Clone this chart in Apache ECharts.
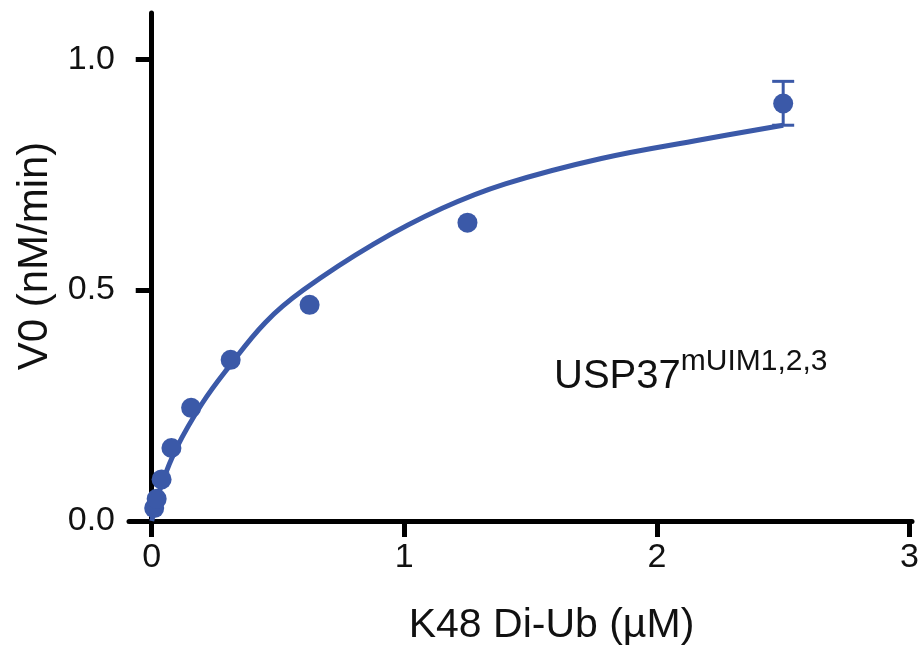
<!DOCTYPE html>
<html>
<head>
<meta charset="utf-8">
<script src="https://cdn.jsdelivr.net/npm/echarts@6/dist/echarts.min.js"></script>
<style>
  html, body { margin: 0; padding: 0; background: #fff; }
  #main { width: 923px; height: 653px; }
</style>
</head>
<body>
<div id="main"></div>
<script>
// K48 Di-Ub concentrations (uM) and measured V0 (nM/min)
var conc = [0.0098, 0.0195, 0.039, 0.078, 0.156, 0.3125, 0.625, 1.25, 2.5];
var v0 = [0.028, 0.048, 0.09, 0.158, 0.245, 0.349, 0.468, 0.646, 0.904];
// error bar (only the top point has a visible one)
var errX = [2.5];
var errLow = [0.857];
var errHigh = [0.952];
// fitted curve
var fitX = [0, 0.04, 0.1, 0.2, 0.3, 0.45, 0.6, 0.88, 1.15, 1.4, 1.78, 2.18, 2.5];
var fitY = [0, 0.08, 0.16, 0.255, 0.33, 0.43, 0.5, 0.6, 0.677, 0.73, 0.785, 0.826, 0.857];
var xTicks = [0, 1, 2, 3];
var yTicks = [0, 0.5, 1.0];

var blue = '#3b59a8';
var font = 'Liberation Sans';
var ink = '#111';

var chart = echarts.init(document.getElementById('main'));

var points = conc.map(function (x, i) { return [x, v0[i]]; });
var fit = fitX.map(function (x, i) { return [x, fitY[i]]; });
var errData = errX.map(function (x, i) { return [x, errLow[i], errHigh[i]]; });

var option = {
  animation: false,
  backgroundColor: '#fff',
  grid: { left: 129, right: 11, top: 13, bottom: 132, outerBoundsMode: 'none' },
  title: {
    text: '{a|USP37}{b|mUIM1,2,3}',
    left: 549,
    top: 342,
    textStyle: {
      fontWeight: 'normal',
      rich: {
        a: { fontFamily: font, fontSize: 40, fontWeight: 'normal', color: ink, verticalAlign: 'bottom', lineHeight: 50 },
        b: { fontFamily: font, fontSize: 30, fontWeight: 'normal', color: ink, verticalAlign: 'top', lineHeight: 50, padding: [0, 0, 16, 0] }
      }
    }
  },
  xAxis: {
    type: 'value',
    min: -0.09,
    max: 3.01,
    name: 'K48 Di-Ub (µM)',
    nameLocation: 'middle',
    nameGap: 84,
    nameMoveOverlap: false,
    nameTextStyle: { fontFamily: font, fontSize: 41, color: ink, padding: [0, 0, 0, 62] },
    splitLine: { show: false },
    axisLine: { onZero: false, lineStyle: { color: '#000', width: 5 } },
    axisTick: { show: true, customValues: xTicks, length: 16, lineStyle: { color: '#000', width: 5 } },
    axisLabel: { customValues: xTicks, margin: 20, fontFamily: font, fontSize: 34, color: ink }
  },
  yAxis: {
    type: 'value',
    min: 0,
    max: 1.1,
    name: 'V0 (nM/min)',
    nameLocation: 'middle',
    nameGap: 73,
    nameMoveOverlap: false,
    nameTextStyle: { fontFamily: font, fontSize: 42, color: ink, padding: [0, 0, 0, 22] },
    splitLine: { show: false },
    axisLine: { show: true, onZero: true, lineStyle: { color: '#000', width: 5 } },
    axisTick: { show: true, customValues: yTicks, length: 16, lineStyle: { color: '#000', width: 5 } },
    axisLabel: {
      customValues: yTicks, margin: 14, fontFamily: font, fontSize: 34, color: ink,
      formatter: function (v) { return v.toFixed(1); }
    }
  },
  series: [
    {
      type: 'line',
      data: fit,
      smooth: 0.4,
      showSymbol: false,
      lineStyle: { color: blue, width: 5 },
      z: 2
    },
    {
      type: 'custom',
      data: errData,
      z: 3,
      renderItem: function (params, api) {
        var lo = api.coord([api.value(0), api.value(1)]);
        var hi = api.coord([api.value(0), api.value(2)]);
        var w = 11;
        var st = { stroke: blue, lineWidth: 3 };
        return {
          type: 'group',
          children: [
            { type: 'line', shape: { x1: lo[0], y1: lo[1], x2: hi[0], y2: hi[1] }, style: st },
            { type: 'line', shape: { x1: lo[0] - w, y1: lo[1], x2: lo[0] + w, y2: lo[1] }, style: st },
            { type: 'line', shape: { x1: hi[0] - w, y1: hi[1], x2: hi[0] + w, y2: hi[1] }, style: st }
          ]
        };
      }
    },
    {
      type: 'scatter',
      data: points,
      symbolSize: 20,
      itemStyle: { color: blue, opacity: 1 },
      z: 4
    }
  ]
};
chart.setOption(option);
</script>
</body>
</html>
